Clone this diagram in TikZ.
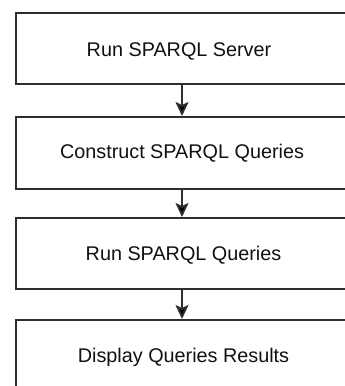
\documentclass[tikz,border=0pt]{standalone}
\usepackage{fontspec}
\setmainfont{Liberation Sans}
\usetikzlibrary{arrows.meta}
\definecolor{edge}{HTML}{2E2E2E}
\definecolor{ink}{HTML}{111111}
\begin{document}
\begin{tikzpicture}[x=1pt,y=-1pt,
  stepbox/.style={draw=edge,line width=2.2pt,fill=white,rectangle},
  steptext/.style={inner sep=0pt,text=ink,font=\fontsize{19.8}{22}\selectfont,
    text height=14pt,text depth=0pt,anchor=center},
  flow/.style={draw=edge,line width=1.8pt,
    -{Stealth[length=14pt,width=13pt,inset=3pt,fill=black]}}]
\useasboundingbox (0,0) rectangle (345,386);
% process boxes (they run on past the right and bottom edges)
\node[stepbox,minimum width=336pt,minimum height=70.5pt,anchor=north west] (b1) at (15,12) {};
\node[stepbox,minimum width=336pt,minimum height=72pt,anchor=north west] (b2) at (15,116) {};
\node[stepbox,minimum width=336pt,minimum height=71pt,anchor=north west] (b3) at (15,217) {};
\node[stepbox,minimum width=336pt,minimum height=71pt,anchor=north west] (b4) at (15,319) {};
% labels
\node[steptext] (t1) at (179,49.7) {Run SPARQL Server};
\node[steptext] (t2) at (182,151) {Construct SPARQL Queries};
\node[steptext] (t3) at (183.5,253) {Run SPARQL Queries};
\node[steptext] (t4) at (183.5,355.5) {Display Queries Results};
% connectors
\coordinate (a1) at (182,82.5);
\coordinate (a2) at (182,188);
\coordinate (a3) at (182,288);
\draw[flow] (a1) -- (a1 |- b2.north);
\draw[flow] (a2) -- (a2 |- b3.north);
\draw[flow] (a3) -- (a3 |- b4.north);
\end{tikzpicture}
\end{document}
